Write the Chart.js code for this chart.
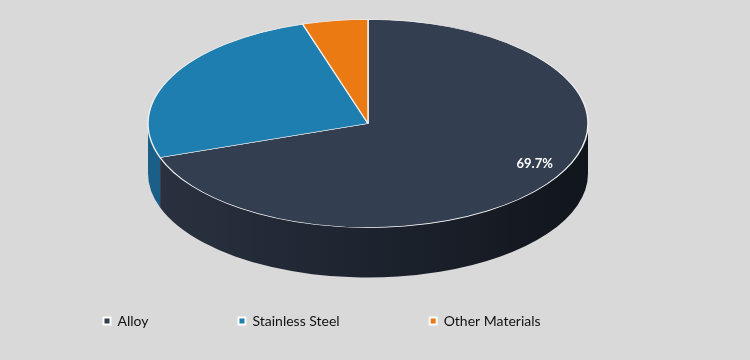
<!DOCTYPE html>
<html><head><meta charset="utf-8">
<script src="https://cdn.jsdelivr.net/npm/chart.js@4.4.0/dist/chart.umd.min.js"></script>
<style>html,body{margin:0;padding:0;background:#d9d9d9;} #wrap{width:750px;height:360px;position:relative;}</style>
</head><body><div id="wrap"><canvas id="c"></canvas></div>
<script>
const categories = ['Alloy', 'Stainless Steel', 'Other Materials'];
const shares = [69.7, 25.5, 4.8];
const shownLabels = ['69.7%', '', ''];
const sliceColors = ['#333e50', '#1f7eb0', '#ec7a12'];
const sideLight = ['#2a3241', '#1a5f88', '#c0630e'];
const sideDark = ['#11151c', '#0f3e58', '#7a3f08'];

const TILT = 0.473, DEPTH = 50;

const pie3d = {
  id: 'pie3d',
  beforeDatasetsDraw(chart) {
    const ctx = chart.ctx;
    const meta = chart.getDatasetMeta(0);
    const a0 = meta.data[0];
    const cx = a0.x, cy = a0.y, R = a0.outerRadius, ry = R * TILT;
    meta.data.forEach((arc, i) => {
      const s = arc.startAngle, e = arc.endAngle;
      [[0, Math.PI], [2 * Math.PI, 3 * Math.PI], [-2 * Math.PI, -Math.PI]].forEach(([lo, hi]) => {
        const a = Math.max(s, lo), b = Math.min(e, hi);
        if (b <= a) return;
        const g = ctx.createLinearGradient(cx - R, 0, cx + R, 0);
        g.addColorStop(0, sideLight[i]);
        g.addColorStop(1, sideDark[i]);
        ctx.save();
        ctx.beginPath();
        ctx.ellipse(cx, cy, R, ry, 0, a, b, false);
        ctx.ellipse(cx, cy + DEPTH, R, ry, 0, b, a, true);
        ctx.closePath();
        ctx.fillStyle = g;
        ctx.fill();
        ctx.restore();
      });
    });
    ctx.save();
    ctx.translate(cx, cy);
    ctx.scale(1, TILT);
    ctx.translate(-cx, -cy);
  },
  afterDatasetsDraw(chart) {
    const ctx = chart.ctx;
    ctx.restore();
    const meta = chart.getDatasetMeta(0);
    meta.data.forEach((arc, i) => {
      if (!shownLabels[i]) return;
      const mid = (arc.startAngle + arc.endAngle) / 2;
      const R = arc.outerRadius;
      const x = arc.x + 0.93 * R * Math.cos(mid);
      const y = arc.y + 0.93 * R * TILT * Math.sin(mid) - 16;
      ctx.save();
      ctx.font = 'bold 13px Lato';
      ctx.fillStyle = '#ffffff';
      ctx.textAlign = 'center';
      ctx.textBaseline = 'middle';
      ctx.fillText(shownLabels[i], x, y);
      ctx.restore();
    });
  }
};

new Chart(document.getElementById('c'), {
  type: 'pie',
  data: {
    labels: categories,
    datasets: [{
      data: shares,
      backgroundColor: sliceColors,
      borderColor: '#eeeeee',
      borderWidth: 1.5,
      radius: 220,
      clip: false
    }]
  },
  options: {
    responsive: true,
    maintainAspectRatio: false,
    devicePixelRatio: 1,
    animation: false,
    events: [],
    layout: { padding: { left: 13.5, right: 27.5, top: 23, bottom: 22 } },
    plugins: {
      tooltip: { enabled: false },
      legend: {
        position: 'bottom',
        align: 'start',
        labels: {
          padding: 90,
          boxWidth: 7,
          boxHeight: 7,
          color: '#111111',
          font: { family: 'Lato', size: 14 },
          generateLabels() {
            return categories.map((c, i) => ({
              text: c, fillStyle: sliceColors[i], strokeStyle: '#ffffff',
              lineWidth: 2, hidden: false, index: i, fontColor: '#111111'
            }));
          }
        }
      }
    }
  },
  plugins: [pie3d]
});
</script></body></html>
